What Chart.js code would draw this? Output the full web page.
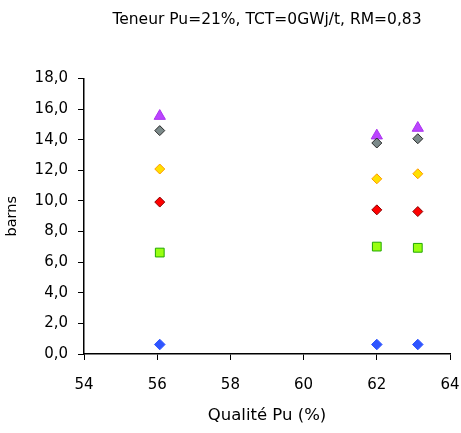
<!DOCTYPE html>
<html>
<head>
<meta charset="utf-8">
<script src="https://cdn.jsdelivr.net/npm/chart.js@4/dist/chart.umd.min.js"></script>
<style>
  html, body { margin: 0; padding: 0; background: #fff; }
  #wrap { width: 461px; height: 433px; position: relative; }
</style>
</head>
<body>
<div id="wrap"><canvas id="chart"></canvas></div>
<script>
'use strict';

// Qualité Pu (%) for each point
var xValues = [56.07, 62.0, 63.12];

// values (barns) per series, one per x
var serieBleue = [0.62, 0.62, 0.62];
var serieVerte = [6.63, 7.02, 6.94];
var serieRouge = [9.93, 9.42, 9.31];
var serieJaune = [12.09, 11.45, 11.78];
var serieGrise = [14.6, 13.79, 14.07];
var serieViolette = [15.55, 14.27, 14.77];

var xTicks = [54, 56, 58, 60, 62, 64];
var yTicks = [0, 2, 4, 6, 8, 10, 12, 14, 16, 18];

var FONT = '"DejaVu Sans", Verdana, sans-serif';

function points(ys) {
  return ys.map(function(y, i) { return { x: xValues[i], y: y }; });
}

function serie(label, ys, style, radius, fill, border) {
  return {
    label: label,
    data: points(ys),
    pointStyle: style,
    pointRadius: radius,
    pointHoverRadius: radius,
    backgroundColor: fill,
    borderColor: border,
    pointBorderWidth: 1,
    showLine: false
  };
}

var ctx = document.getElementById('chart');
new Chart(ctx, {
  type: 'scatter',
  data: {
    datasets: [
      serie('Série 1', serieBleue, 'rectRot', 5.3, '#2f55ff', '#2f55ff'),
      serie('Série 2', serieVerte, 'rect', 6.2, '#99ff11', '#22a800'),
      serie('Série 3', serieRouge, 'rectRot', 5, '#ff0000', '#8a0000'),
      serie('Série 4', serieJaune, 'rectRot', 5, '#ffe000', '#ff9900'),
      serie('Série 5', serieGrise, 'rectRot', 5, '#7c8a8a', '#2a2a2a'),
      serie('Série 6', serieViolette, 'triangle', 6.5, '#bb44ff', '#aa33ee')
    ]
  },
  options: {
    responsive: true,
    maintainAspectRatio: false,
    animation: false,
    layout: { padding: { left: 0, right: 11, top: 0, bottom: 0 } },
    plugins: {
      legend: { display: false },
      tooltip: { enabled: false },
      title: {
        display: true,
        fullSize: false,
        text: 'Teneur Pu=21%, TCT=0GWj/t, RM=0,83',
        color: '#000',
        font: { family: FONT, size: 15.5, weight: 'normal' },
        padding: { top: 11, bottom: 49 }
      }
    },
    scales: {
      x: {
        type: 'linear',
        min: 54,
        max: 64,
        afterBuildTicks: function(scale) {
          scale.ticks = xTicks.map(function(v) { return { value: v }; });
        },
        afterFit: function(scale) {
          scale.height = 79;
          scale.paddingLeft = 0;
          scale.paddingRight = 0;
        },
        grid: { display: true, drawOnChartArea: false, drawTicks: true, tickLength: 6, color: '#000' },
        border: { display: true, color: '#000', width: 1.5 },
        ticks: { color: '#000', font: { family: FONT, size: 15 }, padding: 16, maxRotation: 0 },
        title: {
          display: true,
          text: 'Qualité Pu (%)',
          color: '#000',
          font: { family: FONT, size: 16.5 },
          padding: { top: 4, bottom: 7 }
        }
      },
      y: {
        type: 'linear',
        min: 0,
        max: 18,
        afterBuildTicks: function(scale) {
          scale.ticks = yTicks.map(function(v) { return { value: v }; });
        },
        afterFit: function(scale) {
          scale.width = 84;
          scale.paddingTop = 0;
          scale.paddingBottom = 0;
        },
        grid: { display: true, drawOnChartArea: false, drawTicks: true, tickLength: 6, color: '#000' },
        border: { display: true, color: '#000', width: 1.5 },
        ticks: {
          color: '#000',
          font: { family: FONT, size: 15 },
          padding: 10,
          callback: function(v) { return v.toFixed(1).replace('.', ','); }
        },
        title: {
          display: true,
          text: 'barns',
          color: '#000',
          font: { family: FONT, size: 14.5 },
          padding: { top: 4, bottom: 7 }
        }
      }
    }
  }
});
</script>
</body>
</html>
